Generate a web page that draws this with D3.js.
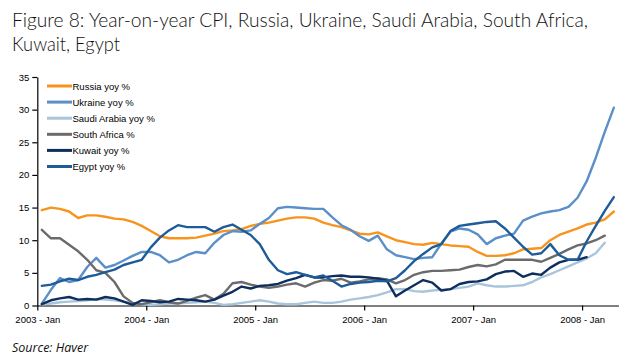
<!DOCTYPE html>
<html>
<head>
<meta charset="utf-8">
<script src="https://cdn.jsdelivr.net/npm/d3@7"></script>
<style>
  html, body { margin: 0; padding: 0; background: #fff; }
  svg { display: block; }
</style>
</head>
<body>
<svg id="chart" width="630" height="360"></svg>
<script>
// ---- data (monthly, Jan 2003 onward) ----
const months = d3.range(64); // Jan 2003 .. Apr 2008
const tickIndex = [0, 12, 24, 36, 48, 60];
const tickLabels = ["2003 - Jan", "2004 - Jan", "2005 - Jan", "2006 - Jan", "2007 - Jan", "2008 - Jan"];
const yTicks = [0, 5, 10, 15, 20, 25, 30, 35];

const seriesNames = ["Russia yoy %", "Ukraine yoy %", "Saudi Arabia yoy %", "South Africa %", "Kuwait yoy %", "Egypt yoy %"];
const seriesColors = ["#f7941d", "#5b8fc8", "#a9c5dc", "#6b6b6d", "#0e2f5e", "#1d5c99"];

const russia = [14.6, 15.0, 14.8, 14.4, 13.4, 13.8, 13.8, 13.6, 13.3, 13.2, 12.8, 12.2,
  11.4, 10.6, 10.3, 10.3, 10.3, 10.4, 10.7, 11.0, 11.4, 11.5, 11.7, 12.2,
  12.5, 12.7, 13.0, 13.3, 13.5, 13.5, 13.3, 12.7, 12.3, 12.0, 11.5, 11.0,
  10.9, 11.2, 10.6, 10.0, 9.7, 9.4, 9.3, 9.6, 9.4, 9.2, 9.1, 9.0,
  8.2, 7.6, 7.6, 7.7, 8.0, 8.6, 8.7, 8.8, 10.0, 10.8, 11.3, 11.8,
  12.4, 12.7, 13.2, 14.4];
const ukraine = [0.3, 2.4, 4.2, 3.6, 3.9, 5.9, 7.3, 5.8, 6.2, 6.9, 7.6, 8.2,
  8.2, 7.7, 6.6, 7.0, 7.7, 8.2, 8.0, 9.6, 10.8, 11.4, 11.3, 11.5,
  12.5, 13.4, 14.9, 15.1, 15.0, 14.9, 14.8, 14.8, 13.5, 12.3, 11.6, 10.6,
  9.9, 10.7, 8.6, 7.7, 7.4, 7.1, 7.3, 7.4, 9.5, 11.3, 11.8, 11.6,
  10.9, 9.4, 10.3, 10.7, 11.0, 13.0, 13.6, 14.1, 14.4, 14.6, 15.1, 16.5,
  19.0, 22.6, 26.6, 30.3];
const saudi = [0.2, 0.3, 0.5, 0.6, 0.7, 0.8, 1.0, 0.9, 0.8, 0.6, 0.4, 0.2,
  0.1, 0.2, 0.3, 0.3, 0.4, 0.5, 0.6, 0.4, 0.1, 0.2, 0.4, 0.6,
  0.8, 0.6, 0.3, 0.2, 0.2, 0.4, 0.6, 0.4, 0.4, 0.6, 0.9, 1.1,
  1.3, 1.6, 2.0, 2.5, 2.5, 2.2, 2.1, 2.3, 2.4, 2.5, 2.7, 2.9,
  3.4, 3.1, 2.9, 2.9, 3.0, 3.1, 3.6, 4.3, 4.8, 5.4, 6.0, 6.6,
  7.2, 8.0, 9.6];
const southAfrica = [11.6, 10.3, 10.3, 9.3, 8.3, 7.0, 5.4, 5.0, 3.6, 1.4, 0.4, 0.2,
  0.5, 0.8, 0.5, 0.3, 0.7, 1.2, 1.6, 0.9, 1.8, 3.4, 3.6, 3.2,
  2.9, 2.7, 2.9, 3.2, 3.4, 2.9, 3.5, 3.9, 3.8, 4.1, 3.5, 3.7,
  4.0, 4.2, 4.0, 3.4, 3.9, 4.7, 5.1, 5.3, 5.3, 5.4, 5.5, 5.9,
  6.2, 6.0, 6.3, 7.0, 7.0, 7.0, 7.0, 6.7, 7.3, 7.9, 8.6, 9.2,
  9.5, 10.0, 10.7];
const kuwait = [0.2, 0.8, 1.1, 1.3, 0.9, 1.0, 0.9, 1.3, 1.1, 0.6, 0.1, 0.8,
  0.7, 0.5, 0.6, 1.0, 0.9, 0.8, 0.6, 0.9, 1.5, 2.1, 2.9, 2.6,
  3.0, 3.1, 3.3, 3.8, 4.2, 4.7, 4.3, 4.3, 4.5, 4.6, 4.4, 4.4,
  4.3, 4.1, 3.8, 1.4, 2.3, 3.1, 3.9, 3.5, 2.3, 2.5, 3.3, 3.6,
  3.7, 4.0, 4.8, 5.2, 5.3, 4.4, 4.9, 4.7, 5.8, 6.6, 7.0, 7.0,
  7.4];
const egypt = [3.0, 3.2, 3.7, 4.1, 3.9, 4.4, 4.7, 5.1, 5.5, 6.2, 6.6, 7.0,
  8.9, 10.4, 11.5, 12.3, 12.0, 12.0, 12.0, 11.3, 12.0, 12.4, 11.6, 10.8,
  9.4, 7.0, 5.4, 4.8, 5.1, 4.7, 4.3, 4.6, 3.8, 2.9, 3.3, 3.5,
  3.6, 3.8, 3.7, 4.2, 5.4, 6.8, 7.9, 8.9, 9.4, 11.4, 12.2, 12.4,
  12.6, 12.8, 12.9, 11.8, 10.4, 9.0, 7.8, 8.0, 9.4, 7.7, 7.0, 7.0,
  9.8, 12.2, 14.5, 16.6];

const seriesValues = [russia, ukraine, saudi, southAfrica, kuwait, egypt];

// ---- layout ----
const svg = d3.select("#chart");
const plotLeft = 37.3, plotRight = 618.4, plotTop = 77, plotBottom = 305.5;

const x = d3.scaleLinear().domain([0, months.length]).range([plotLeft, plotRight]);
const y = d3.scaleLinear().domain([0, 35]).range([plotBottom, plotTop]);

const tickFont = "'Liberation Sans', Arial, sans-serif";

// title
const title = svg.append("g").attr("font-family", "Lato, 'Open Sans', sans-serif")
  .attr("font-weight", 300).attr("font-size", 19).attr("fill", "#111");
title.append("text").attr("x", 12).attr("y", 27)
  .attr("textLength", 576).attr("lengthAdjust", "spacingAndGlyphs")
  .text("Figure 8: Year-on-year CPI, Russia, Ukraine, Saudi Arabia, South Africa,");
title.append("text").attr("x", 12).attr("y", 51)
  .attr("textLength", 108).attr("lengthAdjust", "spacingAndGlyphs")
  .text("Kuwait, Egypt");

// axes
const yAxis = d3.axisLeft(y).tickValues(yTicks).tickSize(5).tickSizeOuter(0).tickPadding(3);
const gy = svg.append("g").attr("transform", `translate(${plotLeft},0)`).call(yAxis);
gy.selectAll("text").attr("font-family", tickFont).attr("font-size", 9.5).attr("fill", "#000");
gy.selectAll("line, path").attr("stroke", "#000").attr("stroke-width", 1.2);

const xAxis = d3.axisBottom(x).tickValues(tickIndex)
  .tickFormat((d, i) => tickLabels[i]).tickSize(5).tickSizeOuter(0).tickPadding(6);
const gx = svg.append("g").attr("transform", `translate(0,${plotBottom})`).call(xAxis);
gx.selectAll("text").attr("font-family", tickFont).attr("font-size", 9.5).attr("fill", "#000");
gx.selectAll("line, path").attr("stroke", "#000").attr("stroke-width", 1.2);

// lines
const line = d3.line()
  .x((d, i) => x(i + 0.5))
  .y(d => y(d));

seriesValues.forEach((vals, k) => {
  svg.append("path")
    .datum(vals)
    .attr("d", line)
    .attr("fill", "none")
    .attr("stroke", seriesColors[k])
    .attr("stroke-width", 2.4)
    .attr("stroke-linejoin", "round")
    .attr("stroke-linecap", "round");
});

// legend
const legend = svg.append("g").attr("font-family", tickFont).attr("font-size", 9.5);
seriesNames.forEach((name, k) => {
  const ly = 86 + k * 16.1;
  legend.append("line").attr("x1", 47).attr("x2", 72).attr("y1", ly).attr("y2", ly)
    .attr("stroke", seriesColors[k]).attr("stroke-width", 3);
  legend.append("text").attr("x", 72.5).attr("y", ly + 3.5).attr("fill", "#000").text(name);
});

// source
svg.append("text").attr("x", 12).attr("y", 352)
  .attr("font-family", "'Open Sans', sans-serif").attr("font-style", "italic")
  .attr("font-size", 12.5).attr("fill", "#111").text("Source: Haver");
</script>
</body>
</html>
